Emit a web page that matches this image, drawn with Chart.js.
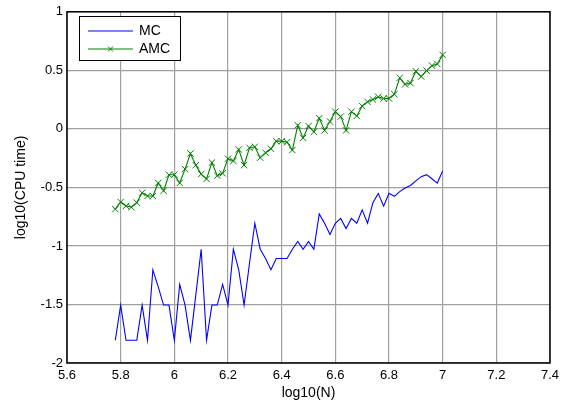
<!DOCTYPE html>
<html>
<head>
<meta charset="utf-8">
<script src="https://cdn.jsdelivr.net/npm/chart.js@4"></script>
<style>
body{margin:0;background:#fff;}
</style>
</head>
<body>
<canvas id="my_Chart" width="574" height="403"></canvas>
<script>
// log10(N) sample positions
var logN=[5.78,5.80,5.82,5.84,5.86,5.88,5.90,5.92,5.94,5.96,5.98,6.00,6.02,6.04,6.06,6.08,6.10,6.12,6.14,6.16,
6.18,6.20,6.22,6.24,6.26,6.28,6.30,6.32,6.34,6.36,6.38,6.40,6.42,6.44,6.46,6.48,6.50,6.52,6.54,6.56,
6.58,6.60,6.62,6.64,6.66,6.68,6.70,6.72,6.74,6.76,6.78,6.80,6.82,6.84,6.86,6.88,6.90,6.92,6.94,6.96,6.98,7.00];

var mc=[-1.806,-1.505,-1.806,-1.806,-1.806,-1.505,-1.806,-1.204,-1.35,-1.505,
-1.505,-1.806,-1.329,-1.505,-1.806,-1.42,-1.028,-1.806,-1.505,-1.505,
-1.329,-1.505,-1.028,-1.204,-1.505,-1.15,-0.806,-1.028,-1.107,-1.204,
-1.107,-1.107,-1.107,-1.028,-0.962,-1.028,-0.962,-1.028,-0.727,-0.806,
-0.903,-0.806,-0.765,-0.852,-0.765,-0.806,-0.692,-0.806,-0.630,-0.551,
-0.660,-0.551,-0.576,-0.536,-0.505,-0.484,-0.444,-0.408,-0.391,-0.426,-0.463,-0.359];

var amc=[-0.686,-0.625,-0.658,-0.669,-0.630,-0.546,-0.574,-0.574,-0.462,-0.529,
-0.392,-0.392,-0.462,-0.344,-0.210,-0.310,-0.386,-0.428,-0.288,-0.400,
-0.380,-0.254,-0.274,-0.176,-0.310,-0.162,-0.153,-0.246,-0.204,-0.170,
-0.105,-0.105,-0.114,-0.181,0.030,-0.077,0.024,-0.025,0.091,-0.013,
0.063,0.147,0.105,-0.013,0.147,0.110,0.195,0.231,0.251,0.273,
0.259,0.259,0.296,0.436,0.380,0.391,0.492,0.447,0.498,0.540,0.554,0.632];

var seriesNames=["MC","AMC"];
var FONT="'Liberation Sans', Arial, sans-serif";

function pts(ys)
{
  var out=[];
  for(var i=0;i<ys.length;i++) out.push({x:logN[i],y:ys[i]});
  return out;
}

// box round the plot + legend in the top left corner
var matlabBox={
  id:'matlabBox',
  afterDraw:function(chart){
    var c=chart.ctx, a=chart.chartArea;
    c.save();
    c.strokeStyle='#000';
    c.lineWidth=1.5;
    c.strokeRect(a.left,a.top,a.right-a.left,a.bottom-a.top);

    // legend
    var lx=79.5, ly=16.5, lw=101, lh=44;
    c.fillStyle='#fff';
    c.fillRect(lx,ly,lw,lh);
    c.lineWidth=1;
    c.strokeRect(lx,ly,lw,lh);
    c.font='14px '+FONT;
    c.textBaseline='middle';
    c.fillStyle='#000';
    c.strokeStyle='#0000ff';
    c.beginPath();c.moveTo(88,31);c.lineTo(133,31);c.stroke();
    c.fillText(seriesNames[0],139,31.5);
    c.strokeStyle='#008000';
    c.beginPath();c.moveTo(88,49);c.lineTo(133,49);c.stroke();
    c.beginPath();
    c.moveTo(108,46.5);c.lineTo(113,51.5);
    c.moveTo(113,46.5);c.lineTo(108,51.5);
    c.stroke();
    c.fillText(seriesNames[1],139,49.5);
    c.restore();
  }
};

var tickFmt=function(v){return String(Math.round(v*10)/10);};

var ctx=document.getElementById('my_Chart').getContext('2d');
var myChart=new Chart(ctx,{
  type:'line',
  data:{
    datasets:[
      {label:seriesNames[0],data:pts(mc),borderColor:'#0000ff',borderWidth:1.1,
       pointRadius:0,tension:0,fill:false},
      {label:seriesNames[1],data:pts(amc),borderColor:'#008000',borderWidth:1.1,
       pointStyle:'crossRot',pointRadius:4.5,pointBorderColor:'#008000',pointBorderWidth:1,
       tension:0,fill:false}
    ]
  },
  options:{
    responsive:false,
    animation:false,
    layout:{padding:{top:7,right:24,left:0,bottom:0}},
    plugins:{legend:{display:false},tooltip:{enabled:false}},
    scales:{
      x:{
        type:'linear',min:5.6,max:7.4,
        afterFit:function(s){s.height=40;},
        grid:{color:'#a0a0a0',lineWidth:1.2,drawTicks:false,tickLength:0},
        border:{display:false},
        ticks:{stepSize:0.2,padding:5,color:'#000',font:{family:FONT,size:13},callback:tickFmt,
               maxRotation:0,autoSkip:false},
        title:{display:true,text:'log10(N)',color:'#000',font:{family:FONT,size:14},padding:{top:0,bottom:1}}
      },
      y:{
        min:-2,max:1,
        afterFit:function(s){s.width=67;},
        grid:{color:'#a0a0a0',lineWidth:1.2,drawTicks:false,tickLength:0},
        border:{display:false},
        ticks:{stepSize:0.5,padding:4,color:'#000',font:{family:FONT,size:13},callback:tickFmt},
        title:{display:true,text:'log10(CPU time)',color:'#000',font:{family:FONT,size:14},padding:{top:13,bottom:0}}
      }
    }
  },
  plugins:[matlabBox]
});
</script>
</body>
</html>
